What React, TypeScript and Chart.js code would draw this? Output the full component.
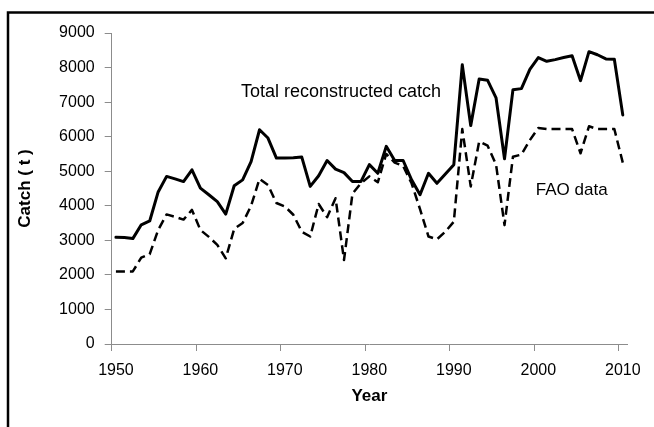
import React, { useEffect, useRef } from 'react';
import { Chart, registerables } from 'chart.js';

Chart.register(...registerables);

const years = [
  '1950', '1951', '1952', '1953', '1954', '1955', '1956', '1957', '1958', '1959',
  '1960', '1961', '1962', '1963', '1964', '1965', '1966', '1967', '1968', '1969',
  '1970', '1971', '1972', '1973', '1974', '1975', '1976', '1977', '1978', '1979',
  '1980', '1981', '1982', '1983', '1984', '1985', '1986', '1987', '1988', '1989',
  '1990', '1991', '1992', '1993', '1994', '1995', '1996', '1997', '1998', '1999',
  '2000', '2001', '2002', '2003', '2004', '2005', '2006', '2007', '2008', '2009',
  '2010',
];

const totalCatch = [
  3090, 3080, 3050, 3450, 3560, 4400, 4850, 4780, 4700, 5040,
  4510, 4320, 4120, 3760, 4580, 4750, 5280, 6200, 5960, 5380,
  5380, 5390, 5410, 4560, 4870, 5310, 5060, 4960, 4700, 4700,
  5190, 4940, 5720, 5310, 5310, 4750, 4320, 4940, 4650, 4920,
  5190, 8080, 6320, 7670, 7630, 7120, 5360, 7360, 7390, 7950,
  8290, 8180, 8230, 8290, 8340, 7620, 8460, 8370, 8250, 8240,
  6630,
];

const faoData = [
  2100, 2100, 2100, 2500, 2600, 3300, 3750, 3680, 3600, 3880,
  3300, 3100, 2870, 2480, 3330, 3500, 4000, 4780, 4600, 4080,
  3980, 3740, 3250, 3110, 4050, 3670, 4220, 2430, 4350, 4650,
  4850, 4680, 5500, 5250, 5150, 4650, 3900, 3110, 3030, 3250,
  3540, 6220, 4560, 5860, 5740, 5190, 3440, 5420, 5480, 5900,
  6250, 6220, 6220, 6220, 6220, 5520, 6300, 6220, 6220, 6220,
  5250,
];

const seriesNames = ['Total reconstructed catch', 'FAO data'];

// Text labels placed in data coordinates (category index, value)
const labelTexts = ['Total reconstructed catch', 'FAO data'];
const labelIndex = [14.8, 49.7];
const labelValue = [7150, 4320];
const labelSize = [18, 17];

const AXIS_GREY = '#8c8c8c';
const FONT = "'Liberation Sans', Arial, sans-serif";

const framePlugin = {
  id: 'frame',
  beforeDraw(chart: any) {
    const { ctx, width, height } = chart;
    ctx.save();
    ctx.fillStyle = '#ffffff';
    ctx.fillRect(0, 0, width, height);
    ctx.strokeStyle = '#000000';
    ctx.lineWidth = 2.5;
    ctx.beginPath();
    ctx.moveTo(8, height + 5);
    ctx.lineTo(8, 12.5);
    ctx.lineTo(width + 5, 12.5);
    ctx.stroke();
    ctx.restore();
  },
};

const labelPlugin = {
  id: 'seriesLabels',
  afterDatasetsDraw(chart: any) {
    const { ctx, scales } = chart;
    ctx.save();
    ctx.fillStyle = '#000000';
    ctx.textAlign = 'left';
    ctx.textBaseline = 'alphabetic';
    for (let i = 0; i < labelTexts.length; i++) {
      const x = scales.x.getPixelForValue(labelIndex[i]);
      const y = scales.y.getPixelForValue(labelValue[i]);
      ctx.font = `${labelSize[i]}px ${FONT}`;
      ctx.fillText(labelTexts[i], x, y);
    }
    ctx.restore();
  },
};

export default function App() {
  const canvasRef = useRef<HTMLCanvasElement | null>(null);

  useEffect(() => {
    const canvas = canvasRef.current;
    if (!canvas) return;
    const chart = new Chart(canvas, {
      type: 'line',
      data: {
        labels: years,
        datasets: [
          {
            label: seriesNames[0],
            data: totalCatch,
            borderColor: '#000000',
            backgroundColor: '#000000',
            borderWidth: 3,
            borderJoinStyle: 'round',
            borderCapStyle: 'round',
            pointRadius: 0,
            tension: 0,
            fill: false,
          },
          {
            label: seriesNames[1],
            data: faoData,
            borderColor: '#000000',
            backgroundColor: '#000000',
            borderWidth: 2.5,
            borderDash: [9, 5],
            borderJoinStyle: 'round',
            pointRadius: 0,
            tension: 0,
            fill: false,
          },
        ],
      },
      options: {
        responsive: false,
        animation: false,
        devicePixelRatio: 1,
        layout: { padding: { top: 33, right: 27, left: 0, bottom: 0 } },
        plugins: {
          legend: { display: false },
          tooltip: { enabled: false },
          title: { display: false },
        },
        scales: {
          x: {
            type: 'category',
            offset: true,
            afterFit: (scale: any) => {
              scale.height = 83;
            },
            grid: {
              offset: true,
              drawOnChartArea: false,
              drawTicks: true,
              tickLength: 7,
              color: (c: any) => (c.index % 10 === 0 && c.index <= 60 ? AXIS_GREY : 'rgba(0,0,0,0)'),
            },
            border: { display: true, color: AXIS_GREY, width: 1 },
            ticks: {
              autoSkip: false,
              maxRotation: 0,
              minRotation: 0,
              padding: 10,
              color: '#000000',
              font: { family: FONT, size: 16 },
              callback: (_v: any, i: number) => (i % 10 === 0 ? years[i] : ''),
            },
            title: {
              display: true,
              text: 'Year',
              color: '#000000',
              font: { family: FONT, size: 17, weight: 'bold' },
              padding: { top: 0, bottom: 20 },
            },
          },
          y: {
            min: 0,
            max: 9000,
            afterFit: (scale: any) => {
              scale.width = 111.7;
            },
            grid: {
              drawOnChartArea: false,
              drawTicks: true,
              tickLength: 7,
              color: AXIS_GREY,
            },
            border: { display: true, color: AXIS_GREY, width: 1 },
            ticks: {
              stepSize: 1000,
              padding: 10,
              color: '#000000',
              font: { family: FONT, size: 16 },
              callback: (v: any) => String(v),
            },
            title: {
              display: true,
              text: 'Catch ( t )',
              color: '#000000',
              font: { family: FONT, size: 17, weight: 'bold' },
              padding: { top: 15, bottom: 0 },
            },
          },
        },
      },
      plugins: [framePlugin, labelPlugin],
    });
    return () => {
      chart.destroy();
    };
  }, []);

  return (
    <div style={{ position: 'absolute', left: 0, top: 0, width: 654, height: 427 }}>
      <canvas ref={canvasRef} width={654} height={427} style={{ display: 'block' }} />
    </div>
  );
}
